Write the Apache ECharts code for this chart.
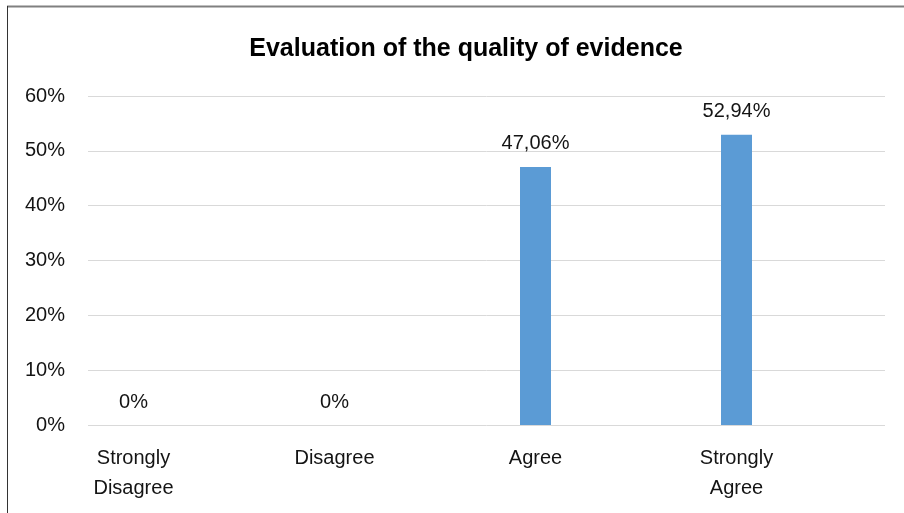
<!DOCTYPE html>
<html>
<head>
<meta charset="utf-8">
<script src="https://cdn.jsdelivr.net/npm/echarts@6/dist/echarts.min.js"></script>
<style>
html,body{margin:0;padding:0;background:#fff;}
#chart{width:904px;height:513px;}
</style>
</head>
<body>
<div id="chart"></div>
<script>
const titleText = 'Evaluation of the quality of evidence';
const categories = ['Strongly\nDisagree', 'Disagree', 'Agree', 'Strongly\nAgree'];
const values = [0, 0, 47.06, 52.94];
const yMin = 0, yMax = 60, yStep = 10;

const FONT = '"Liberation Sans", Arial, sans-serif';
const TXT = '#141414';

function fmt(v) {
  return (Number.isInteger(v) ? String(v) : v.toFixed(2).replace('.', ',')) + '%';
}

const chart = echarts.init(document.getElementById('chart'), null, {renderer: 'canvas'});
chart.setOption({
  animation: false,
  backgroundColor: '#ffffff',
  title: {
    text: titleText,
    left: 461, top: 32, textAlign: 'center',
    textStyle: {fontFamily: FONT, fontSize: 25, fontWeight: 'bold', color: '#000'}
  },
  grid: [
    {left: 88, right: 19, top: 96, bottom: 88},
    {left: 33, width: 804, top: 96, bottom: 88}
  ],
  xAxis: [
    {gridIndex: 0, type: 'category', data: categories, show: false},
    {gridIndex: 1, type: 'category', data: categories,
     axisLine: {show: false}, axisTick: {show: false},
     axisLabel: {margin: 18, fontFamily: FONT, fontSize: 20, color: TXT, lineHeight: 30, interval: 0}}
  ],
  yAxis: [
    {gridIndex: 0, type: 'value', min: yMin, max: yMax, interval: yStep,
     axisLine: {show: false}, axisTick: {show: false},
     axisLabel: {formatter: '{value}%', margin: 23, fontFamily: FONT, fontSize: 20, color: TXT},
     splitLine: {lineStyle: {color: '#d9d9d9', width: 1}}},
    {gridIndex: 1, type: 'value', min: yMin, max: yMax, interval: yStep, show: false}
  ],
  series: [{
    type: 'bar', xAxisIndex: 1, yAxisIndex: 1,
    data: values, barWidth: 31,
    itemStyle: {color: '#5b9bd5'},
    label: {show: true, position: 'top', distance: 13,
      formatter: p => fmt(p.value),
      fontFamily: FONT, fontSize: 20, color: TXT}
  }],
  graphic: [
    {type: 'line', shape: {x1: 7, y1: 6.5, x2: 904, y2: 6.5}, style: {stroke: '#808080', lineWidth: 2}, silent: true},
    {type: 'line', shape: {x1: 7.5, y1: 6, x2: 7.5, y2: 513}, style: {stroke: '#333333', lineWidth: 1}, silent: true}
  ]
});
</script>
</body>
</html>
